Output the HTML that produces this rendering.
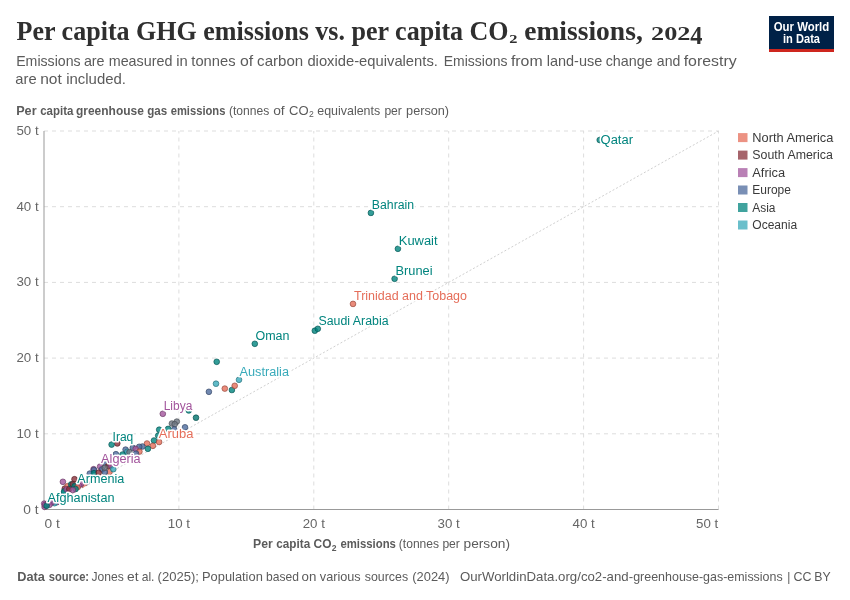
<!DOCTYPE html>
<html lang="en"><head><meta charset="utf-8"><title>Per capita GHG emissions vs. per capita CO2 emissions, 2024</title>
<style>
html,body{margin:0;padding:0;background:#fff;}
body{width:850px;height:600px;overflow:hidden;}
svg{display:block;font-family:"Liberation Sans",Arial,sans-serif;}
.title{font-family:"Liberation Serif","DejaVu Serif",serif;font-weight:bold;fill:#2f2f2f;}
.sub{fill:#5b5b5b;font-size:15px;}
.tick{fill:#666;font-size:13px;}
.ax{fill:#5b5b5b;font-size:13px;}
.lg{fill:#3a3a3a;font-size:12px;}
.lab{font-size:12.3px;paint-order:stroke;stroke:#fff;stroke-width:3px;stroke-linejoin:round;}
.ft{fill:#5b5b5b;font-size:13px;}
.grid line{stroke:#ddd;stroke-width:1;stroke-dasharray:4 4;}
</style></head><body>
<svg width="850" height="600" viewBox="0 0 850 600">
<rect width="850" height="600" fill="#fff"/>

<text class="title"><tspan x="16.6" y="40.2" font-size="27" textLength="492" lengthAdjust="spacingAndGlyphs">Per capita GHG emissions vs. per capita CO</tspan><tspan x="509.2" y="43.2" font-size="13" textLength="8.2" lengthAdjust="spacingAndGlyphs">2</tspan> <tspan x="524.2" y="40.2" font-size="27" textLength="118.6" lengthAdjust="spacingAndGlyphs">emissions,</tspan> <tspan x="651" y="40.2" font-size="19.2" textLength="39.4" lengthAdjust="spacingAndGlyphs">202</tspan><tspan x="690.3" y="44.1" font-size="24.5" textLength="12.2" lengthAdjust="spacingAndGlyphs">4</tspan></text>
<text class="sub" y="66.4"><tspan x="16.2" y="66.4" textLength="64.4" lengthAdjust="spacingAndGlyphs">Emissions</tspan> <tspan x="83.9" y="66.4" textLength="20.7" lengthAdjust="spacingAndGlyphs">are</tspan> <tspan x="108.7" y="66.4" textLength="63.8" lengthAdjust="spacingAndGlyphs">measured</tspan> <tspan x="176.2" y="66.4" textLength="11.5" lengthAdjust="spacingAndGlyphs">in</tspan> <tspan x="191.3" y="66.4" textLength="44.2" lengthAdjust="spacingAndGlyphs">tonnes</tspan> <tspan x="240.0" y="66.4" textLength="13.2" lengthAdjust="spacingAndGlyphs">of</tspan> <tspan x="257.1" y="66.4" textLength="46.1" lengthAdjust="spacingAndGlyphs">carbon</tspan> <tspan x="307.4" y="66.4" textLength="130.5" lengthAdjust="spacingAndGlyphs">dioxide-equivalents.</tspan> <tspan x="443.8" y="66.4" textLength="63.6" lengthAdjust="spacingAndGlyphs">Emissions</tspan> <tspan x="510.9" y="66.4" textLength="31.7" lengthAdjust="spacingAndGlyphs">from</tspan> <tspan x="546.7" y="66.4" textLength="55.6" lengthAdjust="spacingAndGlyphs">land-use</tspan> <tspan x="605.7" y="66.4" textLength="47.0" lengthAdjust="spacingAndGlyphs">change</tspan> <tspan x="656.8" y="66.4" textLength="23.5" lengthAdjust="spacingAndGlyphs">and</tspan> <tspan x="683.7" y="66.4" textLength="53.0" lengthAdjust="spacingAndGlyphs">forestry</tspan></text>
<text class="sub" y="84.2"><tspan x="15.3" y="84.2" textLength="21.3" lengthAdjust="spacingAndGlyphs">are</tspan> <tspan x="40.2" y="84.2" textLength="21.6" lengthAdjust="spacingAndGlyphs">not</tspan> <tspan x="66.2" y="84.2" textLength="59.8" lengthAdjust="spacingAndGlyphs">included.</tspan></text>
<g><rect x="769" y="16" width="65" height="36" fill="#002147"/><rect x="769" y="49" width="65" height="3" fill="#ce261e"/>
<text x="801.5" y="31.2" text-anchor="middle" fill="#fff" font-weight="bold" font-size="12" textLength="55.5" lengthAdjust="spacingAndGlyphs">Our World</text>
<text x="801.5" y="43" text-anchor="middle" fill="#fff" font-weight="bold" font-size="12" textLength="37" lengthAdjust="spacingAndGlyphs">in Data</text></g>
<text class="ax" y="115"><tspan x="16.2" y="115" textLength="20.4" lengthAdjust="spacingAndGlyphs" font-weight="bold">Per</tspan> <tspan x="40.2" y="115" textLength="33.2" lengthAdjust="spacingAndGlyphs" font-weight="bold">capita</tspan> <tspan x="76.0" y="115" textLength="67.8" lengthAdjust="spacingAndGlyphs" font-weight="bold">greenhouse</tspan> <tspan x="147.2" y="115" textLength="20.0" lengthAdjust="spacingAndGlyphs" font-weight="bold">gas</tspan> <tspan x="170.7" y="115" textLength="54.7" lengthAdjust="spacingAndGlyphs" font-weight="bold">emissions</tspan> <tspan x="228.9" y="115" textLength="40.3" lengthAdjust="spacingAndGlyphs">(tonnes</tspan> <tspan x="273.2" y="115" textLength="11.5" lengthAdjust="spacingAndGlyphs">of</tspan> <tspan x="289.1" y="115" textLength="19.6" lengthAdjust="spacingAndGlyphs">CO</tspan><tspan x="309.1" y="117.2" font-size="8.6">2</tspan> <tspan x="317.3" y="115" textLength="62.9" lengthAdjust="spacingAndGlyphs">equivalents</tspan> <tspan x="384.4" y="115" textLength="17.5" lengthAdjust="spacingAndGlyphs">per</tspan> <tspan x="406.1" y="115" textLength="43.0" lengthAdjust="spacingAndGlyphs">person)</tspan></text>
<g class="grid">
<line x1="44.0" x2="718.5" y1="433.8" y2="433.8"/>
<line x1="178.9" x2="178.9" y1="509.5" y2="131.0"/>
<line x1="44.0" x2="718.5" y1="358.1" y2="358.1"/>
<line x1="313.8" x2="313.8" y1="509.5" y2="131.0"/>
<line x1="44.0" x2="718.5" y1="282.4" y2="282.4"/>
<line x1="448.7" x2="448.7" y1="509.5" y2="131.0"/>
<line x1="44.0" x2="718.5" y1="206.7" y2="206.7"/>
<line x1="583.6" x2="583.6" y1="509.5" y2="131.0"/>
<line x1="44.0" x2="718.5" y1="131.0" y2="131.0"/>
<line x1="718.5" x2="718.5" y1="509.5" y2="131.0"/>
</g>
<line x1="44.0" y1="509.5" x2="718.5" y2="131.0" stroke="#d0d0d0" stroke-width="1" stroke-dasharray="2 2"/>
<line x1="44.0" x2="44.0" y1="131.0" y2="509.5" stroke="#999" stroke-width="1"/>
<line x1="44.0" x2="718.5" y1="509.5" y2="509.5" stroke="#999" stroke-width="1"/>
<text class="tick" x="23.3" y="513.5" textLength="15.3" lengthAdjust="spacingAndGlyphs">0 t</text>
<text class="tick" x="44.5" y="527.5" textLength="15.3" lengthAdjust="spacingAndGlyphs">0 t</text>
<text class="tick" x="16.4" y="437.8" textLength="22.2" lengthAdjust="spacingAndGlyphs">10 t</text>
<text class="tick" x="167.8" y="527.5" textLength="22.2" lengthAdjust="spacingAndGlyphs">10 t</text>
<text class="tick" x="16.4" y="362.1" textLength="22.2" lengthAdjust="spacingAndGlyphs">20 t</text>
<text class="tick" x="302.7" y="527.5" textLength="22.2" lengthAdjust="spacingAndGlyphs">20 t</text>
<text class="tick" x="16.4" y="286.4" textLength="22.2" lengthAdjust="spacingAndGlyphs">30 t</text>
<text class="tick" x="437.6" y="527.5" textLength="22.2" lengthAdjust="spacingAndGlyphs">30 t</text>
<text class="tick" x="16.4" y="210.7" textLength="22.2" lengthAdjust="spacingAndGlyphs">40 t</text>
<text class="tick" x="572.5" y="527.5" textLength="22.2" lengthAdjust="spacingAndGlyphs">40 t</text>
<text class="tick" x="16.4" y="135.0" textLength="22.2" lengthAdjust="spacingAndGlyphs">50 t</text>
<text class="tick" x="696.0" y="527.5" textLength="22.2" lengthAdjust="spacingAndGlyphs">50 t</text>
<text class="ax" y="548.4"><tspan x="253.1" y="548.4" textLength="19.7" lengthAdjust="spacingAndGlyphs" font-weight="bold">Per</tspan> <tspan x="276.3" y="548.4" textLength="33.9" lengthAdjust="spacingAndGlyphs" font-weight="bold">capita</tspan> <tspan x="313.6" y="548.4" textLength="17.9" lengthAdjust="spacingAndGlyphs" font-weight="bold">CO</tspan><tspan x="331.8" y="550.6" font-size="8.6" font-weight="bold">2</tspan> <tspan x="340.4" y="548.4" textLength="55.5" lengthAdjust="spacingAndGlyphs" font-weight="bold">emissions</tspan> <tspan x="398.8" y="548.4" textLength="40.3" lengthAdjust="spacingAndGlyphs">(tonnes</tspan> <tspan x="442.4" y="548.4" textLength="17.5" lengthAdjust="spacingAndGlyphs">per</tspan> <tspan x="463.6" y="548.4" textLength="46.4" lengthAdjust="spacingAndGlyphs">person)</tspan></text>
<defs><clipPath id="above"><polygon points="34.0,515.1 718.5,131.0 34.0,131.0"/></clipPath></defs>
<g>
<circle cx="599.7" cy="140" r="2.85" fill="#00847E" fill-opacity="0.8" stroke="#00514e" stroke-opacity="0.8" stroke-width="0.8"/>
<circle cx="370.9" cy="212.9" r="2.85" fill="#00847E" fill-opacity="0.8" stroke="#00514e" stroke-opacity="0.8" stroke-width="0.8"/>
<circle cx="397.9" cy="248.8" r="2.85" fill="#00847E" fill-opacity="0.8" stroke="#00514e" stroke-opacity="0.8" stroke-width="0.8"/>
<circle cx="394.6" cy="278.8" r="2.85" fill="#00847E" fill-opacity="0.8" stroke="#00514e" stroke-opacity="0.8" stroke-width="0.8"/>
<circle cx="353" cy="303.9" r="2.85" fill="#E56E5A" fill-opacity="0.8" stroke="#8d4437" stroke-opacity="0.8" stroke-width="0.8"/>
<circle cx="314.8" cy="330.7" r="2.85" fill="#00847E" fill-opacity="0.8" stroke="#00514e" stroke-opacity="0.8" stroke-width="0.8"/>
<circle cx="317.8" cy="328.8" r="2.85" fill="#00847E" fill-opacity="0.8" stroke="#00514e" stroke-opacity="0.8" stroke-width="0.8"/>
<circle cx="254.8" cy="343.8" r="2.85" fill="#00847E" fill-opacity="0.8" stroke="#00514e" stroke-opacity="0.8" stroke-width="0.8"/>
<circle cx="216.7" cy="361.8" r="2.85" fill="#00847E" fill-opacity="0.8" stroke="#00514e" stroke-opacity="0.8" stroke-width="0.8"/>
<circle cx="239" cy="379.8" r="2.85" fill="#38AABA" fill-opacity="0.8" stroke="#226973" stroke-opacity="0.8" stroke-width="0.8"/>
<circle cx="216" cy="383.7" r="2.85" fill="#38AABA" fill-opacity="0.8" stroke="#226973" stroke-opacity="0.8" stroke-width="0.8"/>
<circle cx="224.8" cy="388.6" r="2.85" fill="#E56E5A" fill-opacity="0.8" stroke="#8d4437" stroke-opacity="0.8" stroke-width="0.8"/>
<circle cx="231.9" cy="390" r="2.85" fill="#00847E" fill-opacity="0.8" stroke="#00514e" stroke-opacity="0.8" stroke-width="0.8"/>
<circle cx="234.7" cy="385.8" r="2.85" fill="#E56E5A" fill-opacity="0.8" stroke="#8d4437" stroke-opacity="0.8" stroke-width="0.8"/>
<circle cx="208.9" cy="391.8" r="2.85" fill="#4C6A9C" fill-opacity="0.8" stroke="#2f4160" stroke-opacity="0.8" stroke-width="0.8"/>
<circle cx="196" cy="417.7" r="2.85" fill="#00746E" fill-opacity="0.8" stroke="#004744" stroke-opacity="0.8" stroke-width="0.8"/>
<circle cx="185" cy="427.3" r="2.85" fill="#4C6A9C" fill-opacity="0.8" stroke="#2f4160" stroke-opacity="0.8" stroke-width="0.8"/>
<circle cx="162.8" cy="413.8" r="2.85" fill="#A2559C" fill-opacity="0.8" stroke="#643460" stroke-opacity="0.8" stroke-width="0.8"/>
<circle cx="188.8" cy="410.4" r="2.85" fill="#00847E" fill-opacity="0.8" stroke="#00514e" stroke-opacity="0.8" stroke-width="0.8"/>
<circle cx="171.9" cy="423.5" r="2.85" fill="#6E7581" fill-opacity="0.8" stroke="#44484f" stroke-opacity="0.8" stroke-width="0.8"/>
<circle cx="176.8" cy="421.6" r="2.85" fill="#6E7581" fill-opacity="0.8" stroke="#44484f" stroke-opacity="0.8" stroke-width="0.8"/>
<circle cx="174.7" cy="424.2" r="2.85" fill="#6E7581" fill-opacity="0.8" stroke="#44484f" stroke-opacity="0.8" stroke-width="0.8"/>
<circle cx="174.2" cy="429.4" r="2.85" fill="#4C6A9C" fill-opacity="0.8" stroke="#2f4160" stroke-opacity="0.8" stroke-width="0.8"/>
<circle cx="168.1" cy="428.9" r="2.85" fill="#00847E" fill-opacity="0.8" stroke="#00514e" stroke-opacity="0.8" stroke-width="0.8"/>
<circle cx="159.2" cy="429.7" r="2.85" fill="#00847E" fill-opacity="0.8" stroke="#00514e" stroke-opacity="0.8" stroke-width="0.8"/>
<circle cx="158.2" cy="435.6" r="2.85" fill="#00847E" fill-opacity="0.8" stroke="#00514e" stroke-opacity="0.8" stroke-width="0.8"/>
<circle cx="154" cy="440.5" r="2.85" fill="#00847E" fill-opacity="0.8" stroke="#00514e" stroke-opacity="0.8" stroke-width="0.8"/>
<circle cx="159.1" cy="442" r="2.85" fill="#E56E5A" fill-opacity="0.8" stroke="#8d4437" stroke-opacity="0.8" stroke-width="0.8"/>
<circle cx="147" cy="443.5" r="2.85" fill="#E56E5A" fill-opacity="0.8" stroke="#8d4437" stroke-opacity="0.8" stroke-width="0.8"/>
<circle cx="152.9" cy="445.8" r="2.85" fill="#E56E5A" fill-opacity="0.8" stroke="#8d4437" stroke-opacity="0.8" stroke-width="0.8"/>
<circle cx="147.9" cy="448.8" r="2.85" fill="#00847E" fill-opacity="0.8" stroke="#00514e" stroke-opacity="0.8" stroke-width="0.8"/>
<circle cx="142.4" cy="446.5" r="2.85" fill="#4C6A9C" fill-opacity="0.8" stroke="#2f4160" stroke-opacity="0.8" stroke-width="0.8"/>
<circle cx="139.2" cy="446.8" r="2.85" fill="#4C6A9C" fill-opacity="0.8" stroke="#2f4160" stroke-opacity="0.8" stroke-width="0.8"/>
<circle cx="132.8" cy="447.8" r="2.85" fill="#4C6A9C" fill-opacity="0.8" stroke="#2f4160" stroke-opacity="0.8" stroke-width="0.8"/>
<circle cx="135.7" cy="448.9" r="2.85" fill="#A2559C" fill-opacity="0.8" stroke="#643460" stroke-opacity="0.8" stroke-width="0.8"/>
<circle cx="139.4" cy="451.6" r="2.85" fill="#E56E5A" fill-opacity="0.8" stroke="#8d4437" stroke-opacity="0.8" stroke-width="0.8"/>
<circle cx="125.6" cy="449.6" r="2.85" fill="#4C6A9C" fill-opacity="0.8" stroke="#2f4160" stroke-opacity="0.8" stroke-width="0.8"/>
<circle cx="127.2" cy="451.8" r="2.85" fill="#38AABA" fill-opacity="0.8" stroke="#226973" stroke-opacity="0.8" stroke-width="0.8"/>
<circle cx="129.5" cy="452.2" r="2.85" fill="#6E7581" fill-opacity="0.8" stroke="#44484f" stroke-opacity="0.8" stroke-width="0.8"/>
<circle cx="136" cy="453.5" r="2.85" fill="#4C6A9C" fill-opacity="0.8" stroke="#2f4160" stroke-opacity="0.8" stroke-width="0.8"/>
<circle cx="115.9" cy="454.2" r="2.85" fill="#4C6A9C" fill-opacity="0.8" stroke="#2f4160" stroke-opacity="0.8" stroke-width="0.8"/>
<circle cx="122.5" cy="454.5" r="2.85" fill="#00847E" fill-opacity="0.8" stroke="#00514e" stroke-opacity="0.8" stroke-width="0.8"/>
<circle cx="117.3" cy="443.4" r="2.85" fill="#883039" fill-opacity="0.8" stroke="#541d23" stroke-opacity="0.8" stroke-width="0.8"/>
<circle cx="111.6" cy="444.6" r="2.85" fill="#00847E" fill-opacity="0.8" stroke="#00514e" stroke-opacity="0.8" stroke-width="0.8"/>
<circle cx="89.8" cy="473.6" r="2.85" fill="#4C6A9C" fill-opacity="0.8" stroke="#2f4160" stroke-opacity="0.8" stroke-width="0.8"/>
<circle cx="105.5" cy="463.5" r="2.85" fill="#4C6A9C" fill-opacity="0.8" stroke="#2f4160" stroke-opacity="0.8" stroke-width="0.8"/>
<circle cx="100.1" cy="466.6" r="2.85" fill="#A2559C" fill-opacity="0.8" stroke="#643460" stroke-opacity="0.8" stroke-width="0.8"/>
<circle cx="108.1" cy="466.1" r="2.85" fill="#883039" fill-opacity="0.8" stroke="#541d23" stroke-opacity="0.8" stroke-width="0.8"/>
<circle cx="111.2" cy="465.6" r="2.85" fill="#A2559C" fill-opacity="0.8" stroke="#643460" stroke-opacity="0.8" stroke-width="0.8"/>
<circle cx="109.5" cy="472" r="2.85" fill="#E56E5A" fill-opacity="0.8" stroke="#8d4437" stroke-opacity="0.8" stroke-width="0.8"/>
<circle cx="102" cy="469.4" r="2.85" fill="#4C6A9C" fill-opacity="0.8" stroke="#2f4160" stroke-opacity="0.8" stroke-width="0.8"/>
<circle cx="104.8" cy="472" r="2.85" fill="#4C6A9C" fill-opacity="0.8" stroke="#2f4160" stroke-opacity="0.8" stroke-width="0.8"/>
<circle cx="104.8" cy="467.8" r="2.85" fill="#6E7581" fill-opacity="0.8" stroke="#44484f" stroke-opacity="0.8" stroke-width="0.8"/>
<circle cx="113.3" cy="469.2" r="2.85" fill="#38AABA" fill-opacity="0.8" stroke="#226973" stroke-opacity="0.8" stroke-width="0.8"/>
<circle cx="93.6" cy="469.2" r="2.85" fill="#A2559C" fill-opacity="0.8" stroke="#643460" stroke-opacity="0.8" stroke-width="0.8"/>
<circle cx="94" cy="470" r="2.85" fill="#4C6A9C" fill-opacity="0.8" stroke="#2f4160" stroke-opacity="0.8" stroke-width="0.8"/>
<circle cx="94" cy="473.2" r="2.85" fill="#00847E" fill-opacity="0.8" stroke="#00514e" stroke-opacity="0.8" stroke-width="0.8"/>
<circle cx="98.7" cy="472.7" r="2.85" fill="#883039" fill-opacity="0.8" stroke="#541d23" stroke-opacity="0.8" stroke-width="0.8"/>
<circle cx="62.9" cy="481.8" r="2.85" fill="#A2559C" fill-opacity="0.8" stroke="#643460" stroke-opacity="0.8" stroke-width="0.8"/>
<circle cx="64.8" cy="488.6" r="2.85" fill="#883039" fill-opacity="0.8" stroke="#541d23" stroke-opacity="0.8" stroke-width="0.8"/>
<circle cx="63.9" cy="493" r="2.85" fill="#38AABA" fill-opacity="0.8" stroke="#226973" stroke-opacity="0.8" stroke-width="0.8"/>
<circle cx="64.1" cy="491.4" r="2.85" fill="#00847E" fill-opacity="0.8" stroke="#00514e" stroke-opacity="0.8" stroke-width="0.8"/>
<circle cx="67.6" cy="486.2" r="2.85" fill="#E56E5A" fill-opacity="0.8" stroke="#8d4437" stroke-opacity="0.8" stroke-width="0.8"/>
<circle cx="66.7" cy="489.3" r="2.85" fill="#A2559C" fill-opacity="0.8" stroke="#643460" stroke-opacity="0.8" stroke-width="0.8"/>
<circle cx="69.3" cy="489" r="2.85" fill="#883039" fill-opacity="0.8" stroke="#541d23" stroke-opacity="0.8" stroke-width="0.8"/>
<circle cx="74.5" cy="479.2" r="2.85" fill="#883039" fill-opacity="0.8" stroke="#541d23" stroke-opacity="0.8" stroke-width="0.8"/>
<circle cx="71.2" cy="484.4" r="2.85" fill="#00847E" fill-opacity="0.8" stroke="#00514e" stroke-opacity="0.8" stroke-width="0.8"/>
<circle cx="72.8" cy="484.1" r="2.85" fill="#883039" fill-opacity="0.8" stroke="#541d23" stroke-opacity="0.8" stroke-width="0.8"/>
<circle cx="74.7" cy="486.2" r="2.85" fill="#00847E" fill-opacity="0.8" stroke="#00514e" stroke-opacity="0.8" stroke-width="0.8"/>
<circle cx="88.6" cy="484.6" r="2.85" fill="#4C6A9C" fill-opacity="0.8" stroke="#2f4160" stroke-opacity="0.8" stroke-width="0.8" clip-path="url(#above)"/>
<circle cx="84.6" cy="485.8" r="2.85" fill="#E56E5A" fill-opacity="0.8" stroke="#8d4437" stroke-opacity="0.8" stroke-width="0.8" clip-path="url(#above)"/>
<circle cx="81.1" cy="483.9" r="2.85" fill="#A2559C" fill-opacity="0.8" stroke="#643460" stroke-opacity="0.8" stroke-width="0.8"/>
<circle cx="78.9" cy="485.5" r="2.85" fill="#A2559C" fill-opacity="0.8" stroke="#643460" stroke-opacity="0.8" stroke-width="0.8"/>
<circle cx="77.5" cy="487.4" r="2.85" fill="#E56E5A" fill-opacity="0.8" stroke="#8d4437" stroke-opacity="0.8" stroke-width="0.8" clip-path="url(#above)"/>
<circle cx="75.6" cy="489" r="2.85" fill="#00847E" fill-opacity="0.8" stroke="#00514e" stroke-opacity="0.8" stroke-width="0.8"/>
<circle cx="72.8" cy="490" r="2.85" fill="#A2559C" fill-opacity="0.8" stroke="#643460" stroke-opacity="0.8" stroke-width="0.8"/>
<circle cx="57" cy="502.2" r="2.85" fill="#A2559C" fill-opacity="0.8" stroke="#643460" stroke-opacity="0.8" stroke-width="0.8"/>
<circle cx="54.5" cy="503.2" r="2.85" fill="#38AABA" fill-opacity="0.8" stroke="#226973" stroke-opacity="0.8" stroke-width="0.8"/>
<circle cx="52" cy="502.3" r="2.85" fill="#A2559C" fill-opacity="0.8" stroke="#643460" stroke-opacity="0.8" stroke-width="0.8"/>
<circle cx="44.2" cy="503.6" r="2.85" fill="#A2559C" fill-opacity="0.8" stroke="#643460" stroke-opacity="0.8" stroke-width="0.8"/>
<circle cx="44.6" cy="506.9" r="2.85" fill="#A2559C" fill-opacity="0.8" stroke="#643460" stroke-opacity="0.8" stroke-width="0.8"/>
<circle cx="47.3" cy="503.8" r="2.85" fill="#A2559C" fill-opacity="0.8" stroke="#643460" stroke-opacity="0.8" stroke-width="0.8"/>
<circle cx="45" cy="505" r="2.85" fill="#A2559C" fill-opacity="0.8" stroke="#643460" stroke-opacity="0.8" stroke-width="0.8"/>
<circle cx="49.5" cy="504.8" r="2.85" fill="#A2559C" fill-opacity="0.8" stroke="#643460" stroke-opacity="0.8" stroke-width="0.8"/>
<circle cx="46.6" cy="505.8" r="2.85" fill="#00847E" fill-opacity="0.8" stroke="#00514e" stroke-opacity="0.8" stroke-width="0.8"/>
</g>
<g>
<text class="lab" x="600.6" y="144.2" fill="#00847E" textLength="32.4" lengthAdjust="spacingAndGlyphs">Qatar</text>
<text class="lab" x="371.8" y="208.6" fill="#00847E" textLength="42.3" lengthAdjust="spacingAndGlyphs">Bahrain</text>
<text class="lab" x="398.8" y="244.7" fill="#00847E" textLength="38.8" lengthAdjust="spacingAndGlyphs">Kuwait</text>
<text class="lab" x="395.5" y="274.6" fill="#00847E" textLength="37" lengthAdjust="spacingAndGlyphs">Brunei</text>
<text class="lab" x="354" y="299.7" fill="#E56E5A" textLength="113" lengthAdjust="spacingAndGlyphs">Trinidad and Tobago</text>
<text class="lab" x="318.5" y="325" fill="#00847E" textLength="70" lengthAdjust="spacingAndGlyphs">Saudi Arabia</text>
<text class="lab" x="255.5" y="339.7" fill="#00847E" textLength="34" lengthAdjust="spacingAndGlyphs">Oman</text>
<text class="lab" x="239.5" y="375.7" fill="#38AABA" textLength="49.5" lengthAdjust="spacingAndGlyphs">Australia</text>
<text class="lab" x="163.7" y="409.6" fill="#A2559C" textLength="28.6" lengthAdjust="spacingAndGlyphs">Libya</text>
<text class="lab" x="158.8" y="438.2" fill="#E56E5A" textLength="34.6" lengthAdjust="spacingAndGlyphs">Aruba</text>
<text class="lab" x="112.6" y="441" fill="#00847E" textLength="20.7" lengthAdjust="spacingAndGlyphs">Iraq</text>
<text class="lab" x="101.1" y="463" fill="#A2559C" textLength="39.5" lengthAdjust="spacingAndGlyphs">Algeria</text>
<text class="lab" x="77.3" y="483.1" fill="#00847E" textLength="46.9" lengthAdjust="spacingAndGlyphs">Armenia</text>
<text class="lab" x="47.5" y="502" fill="#00847E" textLength="67" lengthAdjust="spacingAndGlyphs">Afghanistan</text>
</g>
<rect x="738" y="133.1" width="9.5" height="9" fill="#E56E5A" fill-opacity="0.75"/>
<text class="lg" x="752.3" y="141.6" textLength="81.1" lengthAdjust="spacingAndGlyphs">North America</text>
<rect x="738" y="150.6" width="9.5" height="9" fill="#883039" fill-opacity="0.75"/>
<text class="lg" x="752.3" y="159.1" textLength="80.5" lengthAdjust="spacingAndGlyphs">South America</text>
<rect x="738" y="168.1" width="9.5" height="9" fill="#A2559C" fill-opacity="0.75"/>
<text class="lg" x="752.3" y="176.6" textLength="32.8" lengthAdjust="spacingAndGlyphs">Africa</text>
<rect x="738" y="185.5" width="9.5" height="9" fill="#4C6A9C" fill-opacity="0.75"/>
<text class="lg" x="752.3" y="194.0" textLength="38.599999999999994" lengthAdjust="spacingAndGlyphs">Europe</text>
<rect x="738" y="203.0" width="9.5" height="9" fill="#00847E" fill-opacity="0.75"/>
<text class="lg" x="752.3" y="211.5" textLength="23.2" lengthAdjust="spacingAndGlyphs">Asia</text>
<rect x="738" y="220.5" width="9.5" height="9" fill="#38AABA" fill-opacity="0.75"/>
<text class="lg" x="752.3" y="229.0" textLength="44.8" lengthAdjust="spacingAndGlyphs">Oceania</text>
<text class="ft" y="580.5"><tspan x="17.2" y="580.5" textLength="27.6" lengthAdjust="spacingAndGlyphs" font-weight="bold">Data</tspan> <tspan x="48.7" y="580.5" textLength="40.4" lengthAdjust="spacingAndGlyphs" font-weight="bold">source:</tspan> <tspan x="91.4" y="580.5" textLength="32.3" lengthAdjust="spacingAndGlyphs">Jones</tspan> <tspan x="127.1" y="580.5" textLength="11.5" lengthAdjust="spacingAndGlyphs">et</tspan> <tspan x="141.7" y="580.5" textLength="12.8" lengthAdjust="spacingAndGlyphs">al.</tspan> <tspan x="157.6" y="580.5" textLength="41.4" lengthAdjust="spacingAndGlyphs">(2025);</tspan> <tspan x="202.0" y="580.5" textLength="60.8" lengthAdjust="spacingAndGlyphs">Population</tspan> <tspan x="266.0" y="580.5" textLength="32.9" lengthAdjust="spacingAndGlyphs">based</tspan> <tspan x="301.6" y="580.5" textLength="14.8" lengthAdjust="spacingAndGlyphs">on</tspan> <tspan x="319.8" y="580.5" textLength="40.9" lengthAdjust="spacingAndGlyphs">various</tspan> <tspan x="364.8" y="580.5" textLength="43.3" lengthAdjust="spacingAndGlyphs">sources</tspan> <tspan x="412.3" y="580.5" textLength="37.2" lengthAdjust="spacingAndGlyphs">(2024)</tspan></text>
<text class="ft" y="580.5"><tspan x="459.9" y="580.5" textLength="173.2" lengthAdjust="spacingAndGlyphs">OurWorldinData.org/co2-and-</tspan><tspan x="633.2" y="580.5" textLength="149.5" lengthAdjust="spacingAndGlyphs">greenhouse-gas-emissions</tspan> <tspan x="787.3" y="580.5" textLength="3.1" lengthAdjust="spacingAndGlyphs">|</tspan> <tspan x="793.5" y="580.5" textLength="18.0" lengthAdjust="spacingAndGlyphs">CC</tspan> <tspan x="814.2" y="580.5" textLength="16.4" lengthAdjust="spacingAndGlyphs">BY</tspan></text>
</svg></body></html>
